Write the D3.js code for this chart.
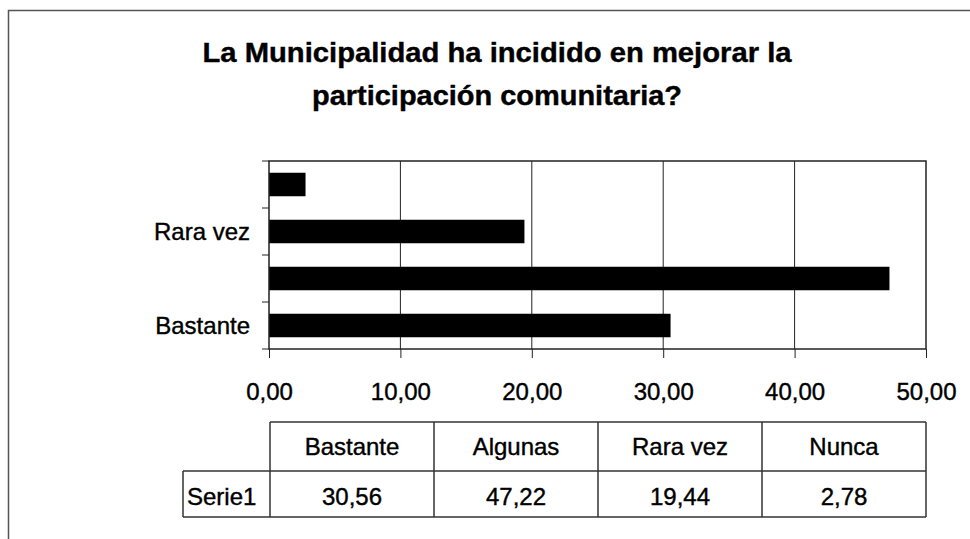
<!DOCTYPE html>
<html>
  <head>
    <meta charset="utf-8">
    <script src="https://d3js.org/d3.v7.min.js"></script>
    <style>
      body { margin: 0; background: #fff; }
      text { font-family: "Liberation Sans", Arial, sans-serif; fill: #000; stroke: #000; stroke-width: 0.4px; }
    </style>
  </head>
  <body>
    <div class="visual"></div>
    <script>

      // datos
      let categorias = ['Bastante', 'Algunas', 'Rara vez', 'Nunca'];
      let valores = [30.56, 47.22, 19.44, 2.78];
      let ticksX = [0, 10, 20, 30, 40, 50];
      let serie = 'Serie1';
      let titulo = ['La Municipalidad ha incidido en mejorar la', 'participación comunitaria?'];

      let width = 970;
      let height = 539;

      let svg = d3.select('.visual').append('svg')
        .attr('width', width)
        .attr('height', height);

      let es = d3.formatLocale({decimal: ',', thousands: '.', grouping: [3], currency: ['', '']});
      let fmt = es.format('.2f');

      // marco exterior
      svg.append('rect')
        .attr('x', 8.5).attr('y', 10.5)
        .attr('width', 980).attr('height', 560)
        .attr('fill', 'none')
        .attr('stroke', '#555')
        .attr('stroke-width', 1.5);

      // titulo
      svg.selectAll('.titulo')
        .data(titulo)
        .enter().append('text')
        .attr('class', 'titulo')
        .attr('x', 497)
        .attr('y', (d, i) => 62 + i * 43)
        .attr('text-anchor', 'middle')
        .attr('font-size', 28)
        .attr('font-weight', 'bold')
        .attr('textLength', (d, i) => i == 0 ? 589 : 370)
        .attr('lengthAdjust', 'spacingAndGlyphs')
        .text(d => d);

      let margin = {left: 269, top: 161, right: 926, bottom: 349};

      let x = d3.scaleLinear()
        .domain([0, 50])
        .range([margin.left, margin.right]);

      let y = d3.scaleBand()
        .domain(categorias.slice().reverse())
        .range([margin.top, margin.bottom])
        .paddingInner(0.5)
        .paddingOuter(0.25);

      // lineas de division
      svg.append('g')
        .selectAll('line')
        .data(ticksX.slice(1, -1))
        .enter().append('line')
        .attr('x1', d => x(d)).attr('x2', d => x(d))
        .attr('y1', margin.top).attr('y2', margin.bottom)
        .attr('stroke', '#222')
        .attr('stroke-width', 1);

      // barras
      svg.append('g')
        .selectAll('rect')
        .data(categorias)
        .enter().append('rect')
        .attr('x', x(0))
        .attr('y', d => y(d))
        .attr('width', (d, i) => x(valores[i]) - x(0))
        .attr('height', y.bandwidth())
        .attr('fill', '#000');

      // area del grafico
      svg.append('rect')
        .attr('x', margin.left).attr('y', margin.top)
        .attr('width', margin.right - margin.left)
        .attr('height', margin.bottom - margin.top)
        .attr('fill', 'none')
        .attr('stroke', '#222')
        .attr('stroke-width', 1.5);

      // eje x
      let ejeX = svg.append('g')
        .attr('transform', 'translate(0,' + margin.bottom + ')')
        .call(d3.axisBottom(x).tickValues(ticksX).tickFormat(fmt).tickSize(9).tickPadding(25));
      ejeX.select('.domain').remove();
      ejeX.selectAll('line').attr('stroke', '#222');
      ejeX.selectAll('text')
        .attr('font-size', 24)
        .attr('font-family', '"Liberation Sans", Arial, sans-serif')
        .attr('fill', '#000');

      // eje y: marcas en los limites de las categorias
      let limites = y.domain().map(d => y(d) - y.step() * y.paddingInner() / 2);
      limites.push(margin.bottom);
      svg.append('g')
        .selectAll('line')
        .data(limites)
        .enter().append('line')
        .attr('x1', margin.left - 7).attr('x2', margin.left)
        .attr('y1', d => d).attr('y2', d => d)
        .attr('stroke', '#222');

      // Excel solo muestra una de cada dos etiquetas
      svg.append('g')
        .selectAll('text')
        .data(categorias.filter((d, i) => i % 2 == 0))
        .enter().append('text')
        .attr('x', 250)
        .attr('y', d => y(d) + y.bandwidth() / 2)
        .attr('dy', '0.35em')
        .attr('text-anchor', 'end')
        .attr('font-size', 24)
        .text(d => d);

      // tabla de datos
      let t = {top: 422, mid: 471, bottom: 517, left: 183};
      let colX = d3.scaleBand()
        .domain(categorias)
        .range([margin.left + 1, margin.right]);

      let tabla = svg.append('g').attr('stroke', '#333').attr('stroke-width', 1.5);
      tabla.append('line').attr('x1', colX.range()[0]).attr('x2', margin.right).attr('y1', t.top).attr('y2', t.top);
      tabla.append('line').attr('x1', t.left).attr('x2', margin.right).attr('y1', t.mid).attr('y2', t.mid);
      tabla.append('line').attr('x1', t.left).attr('x2', margin.right).attr('y1', t.bottom).attr('y2', t.bottom);
      tabla.append('line').attr('x1', t.left).attr('x2', t.left).attr('y1', t.mid).attr('y2', t.bottom);
      tabla.selectAll('.col')
        .data(categorias.map(d => colX(d)).concat([margin.right]))
        .enter().append('line')
        .attr('class', 'col')
        .attr('x1', d => d).attr('x2', d => d)
        .attr('y1', t.top).attr('y2', t.bottom);

      svg.append('g')
        .selectAll('text')
        .data(categorias)
        .enter().append('text')
        .attr('x', d => colX(d) + colX.bandwidth() / 2)
        .attr('y', 455)
        .attr('text-anchor', 'middle')
        .attr('font-size', 24)
        .text(d => d);

      svg.append('g')
        .selectAll('text')
        .data(valores)
        .enter().append('text')
        .attr('x', (d, i) => colX(categorias[i]) + colX.bandwidth() / 2)
        .attr('y', 505)
        .attr('text-anchor', 'middle')
        .attr('font-size', 24)
        .text(d => fmt(d));

      svg.append('text')
        .attr('x', 187)
        .attr('y', 505)
        .attr('font-size', 24)
        .text(serie);

    </script>
  </body>
</html>
